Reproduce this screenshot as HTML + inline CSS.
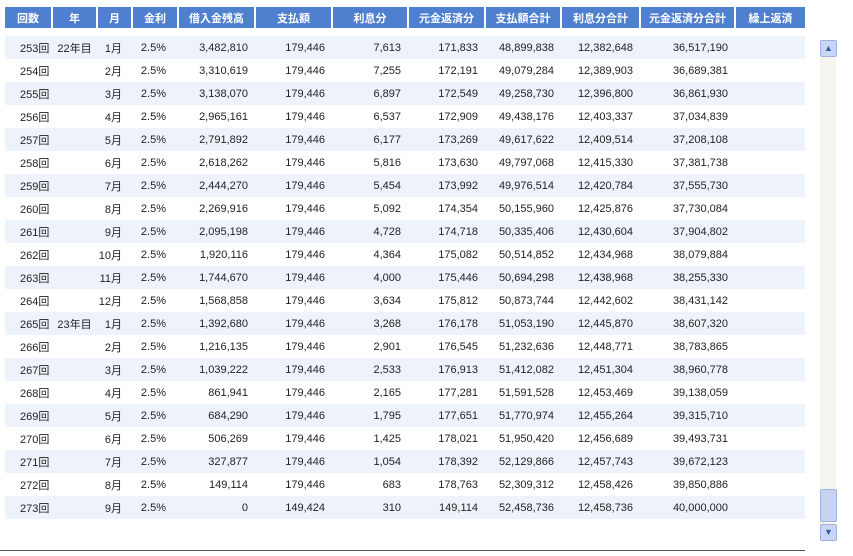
<!DOCTYPE html>
<html><head><meta charset="utf-8"><style>
body{margin:0;background:#fff;width:853px;height:556px;overflow:hidden;position:relative;font-family:"Liberation Sans","Noto Sans CJK JP",sans-serif;}
table{position:absolute;left:5px;top:7px;border-collapse:collapse;table-layout:fixed;width:800px;font-size:11px;color:#222;}
th{background:#4f7fcf;color:#fff;font-weight:bold;height:21px;padding:0;border-right:2px solid #fff;font-size:11px;}
tr.gap td{height:8px;background:#fff;}
td{height:23px;padding:0;white-space:nowrap;}
tbody tr:nth-child(even) td{background:#eef2fa;}
td:nth-child(1){padding-left:15px;}
td:nth-child(2){text-align:center;}
td:nth-child(3){text-align:right;padding-right:10px;}
td:nth-child(4){text-align:right;padding-right:12px;}
td:nth-child(n+5){text-align:right;padding-right:7px;}
.sb{position:absolute;left:820px;top:40px;width:16px;height:500px;background:#f6f4ee;}
.btn{position:absolute;left:0;width:15px;height:15px;background:#c8d6f4;border:1px solid #9fb3df;border-radius:2px;color:#3a5aa0;font-size:9px;text-align:center;line-height:15px;}
.thumb{position:absolute;left:0;top:449px;width:15px;height:31px;background:#c6d4f2;border:1px solid #9fb3df;border-radius:2px;}
.line{position:absolute;left:0;top:550px;width:805px;height:1px;background:#555;}
</style></head><body>
<table>
<colgroup><col style="width:47px"><col style="width:45px"><col style="width:35px"><col style="width:46px"><col style="width:77px"><col style="width:77px"><col style="width:76px"><col style="width:77px"><col style="width:76px"><col style="width:79px"><col style="width:95px"><col style="width:70px"></colgroup>
<thead><tr><th>回数</th><th>年</th><th>月</th><th>金利</th><th>借入金残高</th><th>支払額</th><th>利息分</th><th>元金返済分</th><th>支払額合計</th><th>利息分合計</th><th>元金返済分合計</th><th style="border-right:0">繰上返済</th></tr></thead>
<tbody>
<tr class="gap"><td colspan="12"></td></tr>
<tr><td>253回</td><td>22年目</td><td>1月</td><td>2.5%</td><td>3,482,810</td><td>179,446</td><td>7,613</td><td>171,833</td><td>48,899,838</td><td>12,382,648</td><td>36,517,190</td><td></td></tr>
<tr><td>254回</td><td></td><td>2月</td><td>2.5%</td><td>3,310,619</td><td>179,446</td><td>7,255</td><td>172,191</td><td>49,079,284</td><td>12,389,903</td><td>36,689,381</td><td></td></tr>
<tr><td>255回</td><td></td><td>3月</td><td>2.5%</td><td>3,138,070</td><td>179,446</td><td>6,897</td><td>172,549</td><td>49,258,730</td><td>12,396,800</td><td>36,861,930</td><td></td></tr>
<tr><td>256回</td><td></td><td>4月</td><td>2.5%</td><td>2,965,161</td><td>179,446</td><td>6,537</td><td>172,909</td><td>49,438,176</td><td>12,403,337</td><td>37,034,839</td><td></td></tr>
<tr><td>257回</td><td></td><td>5月</td><td>2.5%</td><td>2,791,892</td><td>179,446</td><td>6,177</td><td>173,269</td><td>49,617,622</td><td>12,409,514</td><td>37,208,108</td><td></td></tr>
<tr><td>258回</td><td></td><td>6月</td><td>2.5%</td><td>2,618,262</td><td>179,446</td><td>5,816</td><td>173,630</td><td>49,797,068</td><td>12,415,330</td><td>37,381,738</td><td></td></tr>
<tr><td>259回</td><td></td><td>7月</td><td>2.5%</td><td>2,444,270</td><td>179,446</td><td>5,454</td><td>173,992</td><td>49,976,514</td><td>12,420,784</td><td>37,555,730</td><td></td></tr>
<tr><td>260回</td><td></td><td>8月</td><td>2.5%</td><td>2,269,916</td><td>179,446</td><td>5,092</td><td>174,354</td><td>50,155,960</td><td>12,425,876</td><td>37,730,084</td><td></td></tr>
<tr><td>261回</td><td></td><td>9月</td><td>2.5%</td><td>2,095,198</td><td>179,446</td><td>4,728</td><td>174,718</td><td>50,335,406</td><td>12,430,604</td><td>37,904,802</td><td></td></tr>
<tr><td>262回</td><td></td><td>10月</td><td>2.5%</td><td>1,920,116</td><td>179,446</td><td>4,364</td><td>175,082</td><td>50,514,852</td><td>12,434,968</td><td>38,079,884</td><td></td></tr>
<tr><td>263回</td><td></td><td>11月</td><td>2.5%</td><td>1,744,670</td><td>179,446</td><td>4,000</td><td>175,446</td><td>50,694,298</td><td>12,438,968</td><td>38,255,330</td><td></td></tr>
<tr><td>264回</td><td></td><td>12月</td><td>2.5%</td><td>1,568,858</td><td>179,446</td><td>3,634</td><td>175,812</td><td>50,873,744</td><td>12,442,602</td><td>38,431,142</td><td></td></tr>
<tr><td>265回</td><td>23年目</td><td>1月</td><td>2.5%</td><td>1,392,680</td><td>179,446</td><td>3,268</td><td>176,178</td><td>51,053,190</td><td>12,445,870</td><td>38,607,320</td><td></td></tr>
<tr><td>266回</td><td></td><td>2月</td><td>2.5%</td><td>1,216,135</td><td>179,446</td><td>2,901</td><td>176,545</td><td>51,232,636</td><td>12,448,771</td><td>38,783,865</td><td></td></tr>
<tr><td>267回</td><td></td><td>3月</td><td>2.5%</td><td>1,039,222</td><td>179,446</td><td>2,533</td><td>176,913</td><td>51,412,082</td><td>12,451,304</td><td>38,960,778</td><td></td></tr>
<tr><td>268回</td><td></td><td>4月</td><td>2.5%</td><td>861,941</td><td>179,446</td><td>2,165</td><td>177,281</td><td>51,591,528</td><td>12,453,469</td><td>39,138,059</td><td></td></tr>
<tr><td>269回</td><td></td><td>5月</td><td>2.5%</td><td>684,290</td><td>179,446</td><td>1,795</td><td>177,651</td><td>51,770,974</td><td>12,455,264</td><td>39,315,710</td><td></td></tr>
<tr><td>270回</td><td></td><td>6月</td><td>2.5%</td><td>506,269</td><td>179,446</td><td>1,425</td><td>178,021</td><td>51,950,420</td><td>12,456,689</td><td>39,493,731</td><td></td></tr>
<tr><td>271回</td><td></td><td>7月</td><td>2.5%</td><td>327,877</td><td>179,446</td><td>1,054</td><td>178,392</td><td>52,129,866</td><td>12,457,743</td><td>39,672,123</td><td></td></tr>
<tr><td>272回</td><td></td><td>8月</td><td>2.5%</td><td>149,114</td><td>179,446</td><td>683</td><td>178,763</td><td>52,309,312</td><td>12,458,426</td><td>39,850,886</td><td></td></tr>
<tr><td>273回</td><td></td><td>9月</td><td>2.5%</td><td>0</td><td>149,424</td><td>310</td><td>149,114</td><td>52,458,736</td><td>12,458,736</td><td>40,000,000</td><td></td></tr>
</tbody></table>
<div class="sb"><div class="btn" style="top:0">▲</div><div class="thumb"></div><div class="btn" style="top:484px">▼</div></div>
<div class="line"></div>
</body></html>
